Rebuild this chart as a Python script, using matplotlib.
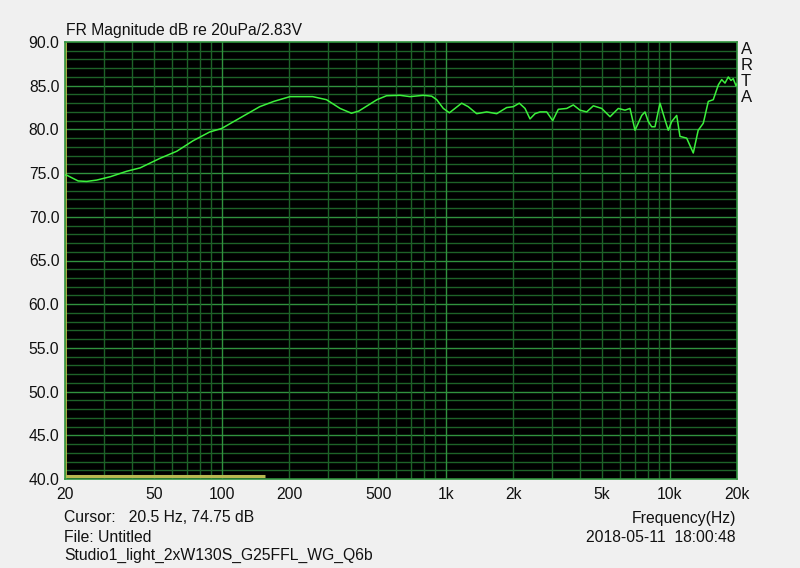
import numpy as np
import matplotlib
matplotlib.use("Agg")
import matplotlib.pyplot as plt

plt.rcParams['font.family'] = ['Liberation Sans', 'DejaVu Sans']

# frequency response
freq_hz = [20.0, 20.4, 22.9, 25.0, 27.7, 32.0, 37.6, 43.3, 53.2, 63.1, 74.6, 88.4, 100, 120.7,
           148, 170.9, 202, 255, 294, 338, 380, 410, 494, 545, 626, 694, 796, 867, 913,
           977, 1040, 1180, 1262, 1377, 1527, 1692, 1874, 2007, 2134, 2263, 2382, 2508,
           2640, 2828, 3008, 3186, 3475, 3718, 3982, 4266, 4568, 4978, 5422, 5904, 6325,
           6657, 7010, 7512, 7766, 8036, 8320, 8608, 9060, 9540, 9870, 10220, 10760,
           11130, 11920, 12760, 13420, 14140, 14890, 15670, 16510, 17090, 17680, 18290,
           18800, 19240, 19790, 20000]
spl_db = [74.8, 74.75, 74.1, 74.05, 74.2, 74.6, 75.2, 75.6, 76.7, 77.5, 78.7, 79.7, 80.1, 81.3,
          82.6, 83.2, 83.75, 83.75, 83.4, 82.4, 81.85, 82.1, 83.4, 83.85, 83.9, 83.75, 83.9,
          83.8, 83.4, 82.4, 81.9, 83.0, 82.6, 81.8, 82.0, 81.8, 82.5, 82.6, 83.0, 82.4,
          81.2, 81.8, 82.0, 82.0, 81.0, 82.3, 82.4, 82.8, 82.2, 82.0, 82.7, 82.4, 81.45,
          82.4, 82.2, 82.4, 79.9, 81.6, 82.0, 80.9, 80.3, 80.3, 83.0, 81.1, 79.9, 80.9,
          81.6, 79.2, 79.0, 77.3, 79.9, 80.7, 83.2, 83.4, 85.1, 85.7, 85.3, 86.0, 85.6,
          85.8, 85.0, 85.2]

# yellow marker line along the floor
marker_freq = [20, 156]
marker_db = [40.4, 40.4]

xticks = [20, 50, 100, 200, 500, 1000, 2000, 5000, 10000, 20000]
xtick_labels = ["20", "50", "100", "200", "500", "1k", "2k", "5k", "10k", "20k"]
yticks = [40, 45, 50, 55, 60, 65, 70, 75, 80, 85, 90]

bg = "#f0f0f0"
fig = plt.figure(figsize=(8, 5.68), dpi=100, facecolor=bg)
ax = fig.add_axes([65 / 800, 1 - 479 / 568, 672 / 800, 437 / 568])
ax.set_facecolor("black")

ax.set_xscale("log")
ax.set_xlim(20, 20000)
ax.set_ylim(40, 90)

# grid: minor every 1 dB and each log step, brighter on 5 dB / decades
minor_col = "#1d6228"
major_col = "#30923e"
for db in range(41, 90):
    ax.axhline(db, color=major_col if db % 5 == 0 else minor_col, lw=1, zorder=1)
for dec in [10, 100, 1000, 10000]:
    for m in range(1, 10):
        f = dec * m
        if 20 < f < 20000:
            ax.axvline(f, color=major_col if m == 1 else minor_col, lw=1, zorder=1)

ax.axvline(20.15, color="#c8c850", lw=1.2, zorder=2)
ax.plot(marker_freq, marker_db, color="#b8b850", lw=2.2, zorder=2, solid_capstyle="butt")
ax.plot(freq_hz, spl_db, color="#3cf03c", lw=1.1, zorder=3)

for s in ax.spines.values():
    s.set_color("#30923e")
    s.set_linewidth(1.2)

ax.set_xticks(xticks)
ax.set_xticklabels(xtick_labels)
ax.set_xticks([], minor=True)
ax.set_yticks(yticks)
ax.set_yticklabels([f"{v:.1f}" for v in yticks])
ax.tick_params(length=0, labelsize=11.3, colors="#111111", pad=6)
ax.tick_params(axis="y", pad=4)

txt = dict(fontsize=11.3, color="#111111")
fig.text(66 / 800, 1 - 30 / 568, "FR Magnitude dB re 20uPa/2.83V", va="center", ha="left", **txt)
for i, ch in enumerate("ARTA"):
    fig.text(741 / 800, 1 - (50 + i * 16) / 568, ch, va="center", ha="left", fontsize=12, color="#111111")

fig.text(64 / 800, 1 - 518 / 568, "Cursor:   20.5 Hz, 74.75 dB", va="center", ha="left", **txt)
fig.text(64 / 800, 1 - 538 / 568, "File: Untitled", va="center", ha="left", **txt)
fig.text(64 / 800, 1 - 555 / 568, "Studio1_light_2xW130S_G25FFL_WG_Q6b", va="center", ha="left", **txt)
fig.text(736 / 800, 1 - 518 / 568, "Frequency(Hz)", va="center", ha="right", **txt)
fig.text(736 / 800, 1 - 538 / 568, "2018-05-11  18:00:48", va="center", ha="right", **txt)

fig.savefig("out.png", dpi=100, facecolor=bg)
